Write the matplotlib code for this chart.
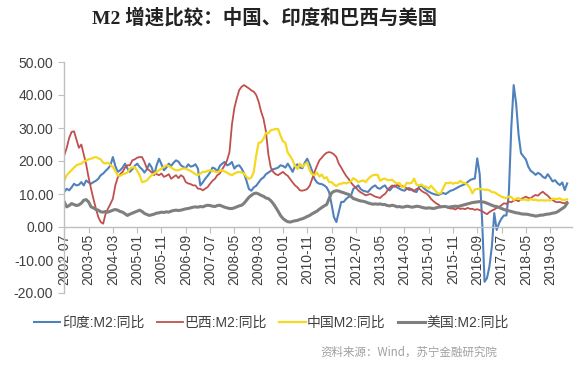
import matplotlib
matplotlib.use("Agg")
import matplotlib.pyplot as plt
import numpy as np
import pandas as pd

plt.rcParams['font.family'] = ['Liberation Sans', 'Noto Sans CJK SC', 'DejaVu Sans']

title = "M2 增速比较：中国、印度和巴西与美国"
source = "资料来源：Wind，苏宁金融研究院"
series_names = ["印度:M2:同比", "巴西:M2:同比", "中国M2:同比", "美国:M2:同比"]
start_month = "2002-07"

india = [10.6, 11.6, 11.1, 12, 13.1, 12.6, 12.8, 13.6, 12.6, 14.1, 13.5, 13.1, 13.6, 14, 14.6, 15.7, 16.2, 17, 17.7, 18.7,
         21.2, 18.5, 16.7, 17.2, 18, 19.2, 17.7, 16.7, 17.5, 18.5, 19.2, 18.2, 17.5, 16.5, 17.5, 19.2, 18, 15.7, 18.7, 20.7,
         19, 17.2, 18, 19.2, 18.5, 19.5, 20.2, 19.8, 18.7, 18.2, 17.8, 19, 18.3, 18.5, 19, 17.7, 12.6, 13.5, 14.6, 15.5,
         16.5, 18, 17.7, 16.8, 18.5, 19.2, 19.7, 18.7, 19, 19.7, 17.7, 18.5, 18.7, 17.7, 16.2, 14, 11.5, 11, 12, 12.5,
         13.5, 14.5, 15, 16, 16.5, 17, 17.5, 17.7, 18, 18.7, 18.5, 18, 19.2, 18, 16.7, 18.5, 19, 18, 17.8, 19.5,
         20.7, 19, 17, 14.6, 13.5, 13.1, 13, 12.6, 12, 10.6, 7, 3, 1.5, 4.5, 7.6, 7.6, 8.5, 9.1, 9.5, 11.6,
         12, 12.6, 11.5, 11, 10.8, 10.6, 11.5, 12.2, 12.6, 11.8, 11.6, 12.2, 12.6, 11.5, 11.1, 12, 12.6, 12, 11.6, 11.2,
         11, 11.5, 11.8, 11.2, 10.8, 10.6, 12.2, 12.6, 11.8, 11.1, 10.7, 10.3, 10, 9.8, 9.7, 10, 10.3, 10, 10.5, 11,
         11.2, 11.6, 12, 12.4, 12.7, 13, 13.6, 14.2, 14.5, 14.7, 20.8, 16, 2, -16.6, -15.5, -12, -6, 4.2, -0.9, 1.2,
         2.6, 3.5, 3.5, 10.2, 30, 43, 37.4, 28, 22.4, 21.4, 20.5, 18.3, 17, 16.5, 15.8, 16.4, 16, 15.2, 14.8, 16,
         15, 13.8, 14.2, 13.3, 12.7, 13.5, 11.2, 13.2]

brazil = [21.7, 24, 27, 28.8, 29, 26.5, 24, 25, 22, 19, 15, 11.6, 8.5, 5.6, 3, 1.5, 1, 4, 5.6, 7,
          8.6, 12.6, 15, 16, 16.7, 18, 18.7, 18.7, 20.2, 20.5, 21, 21.2, 21.2, 19.7, 17.7, 17.2, 16.5, 16.7, 16, 15.7,
          16.2, 15.2, 15.5, 16, 14.6, 15.2, 15.7, 14.8, 15.7, 15.2, 13.6, 13.2, 13, 12.6, 12.6, 11.6, 11.6, 11.1, 11.6, 12.1,
          13.1, 14, 14.6, 15.7, 16.2, 17.5, 18.7, 20.2, 22.7, 31, 36, 39, 41.5, 42.5, 43, 42.5, 42, 41.4, 41, 40,
          38, 35, 32.8, 29, 22, 18, 16.7, 16, 15.7, 16.2, 16.7, 16, 15.5, 14.5, 13.5, 12.6, 12, 11.1, 11, 11.2,
          11.5, 12.5, 14.5, 16.7, 18.5, 20.2, 21, 21.9, 22.5, 22.7, 22.5, 22, 21.2, 19.2, 18, 16.7, 15.5, 14.6, 13.5, 12.6,
          12, 11.1, 10.5, 10.1, 9.6, 9.8, 10, 9.6, 9.2, 9, 8.8, 9.5, 10, 11, 12, 12.6, 12.2, 12.8, 12.3, 12.5,
          12, 11.8, 11.2, 11.5, 11, 11.5, 11.7, 11, 10.5, 10.2, 9.5, 8.5, 7.8, 7.2, 6.8, 6.2, 6, 6.2, 5.8, 5.6,
          5.6, 5.3, 5.8, 5.5, 5.6, 5.4, 5.8, 5.5, 5.5, 5.2, 5.4, 5.1, 4.8, 4.3, 3.9, 4.5, 5, 5.3, 5.8, 6.1,
          6.6, 7.2, 7.0, 7.7, 7.5, 8, 8.2, 7.8, 8.5, 8.8, 9.2, 8.8, 8.7, 9.3, 9.7, 9.5, 10.2, 10.7, 10, 9.5,
          8.7, 8.2, 7.7, 7.5, 7.6, 7.3, 7.2, 7.6]

china = [14.1, 15.7, 16.5, 17.2, 18, 18.7, 19, 19.2, 19.8, 20.2, 20.5, 20.7, 21, 21.2, 20.8, 20.5, 19.5, 19.2, 19.5, 18.8,
         18.2, 17, 15.7, 15.5, 16, 16.2, 16.5, 17.7, 18, 18.2, 17, 15.7, 13.6, 13.8, 14.1, 15, 15.7, 16.2, 16.7, 17.2,
         17.7, 18.2, 18.7, 18.5, 18, 17.5, 17.2, 17.2, 17.5, 17.7, 17.7, 17.3, 17, 16.5, 16, 15.7, 16.2, 16.7, 16.7, 17,
         17.2, 17, 16.8, 16.6, 17, 17.2, 16.8, 16.5, 16, 15.7, 16.2, 16.5, 16.7, 16.5, 16.2, 15.2, 14.6, 15, 16.7, 21.7,
         25.5, 25.7, 26.7, 28.5, 28.4, 29.3, 29.5, 29.7, 29.7, 27.7, 26, 25.5, 22.5, 21.5, 20.2, 18.5, 17.6, 19.2, 18.2, 19,
         19.5, 17.2, 16, 15.7, 16.5, 15.3, 15.9, 14.7, 15.1, 13.6, 13.6, 12.9, 12.4, 13, 13.1, 13.4, 13.2, 13.5, 13.9, 14.8,
         14.3, 13.6, 13.9, 14.1, 13.6, 14.5, 15.2, 15.7, 15.8, 15.8, 14, 14.5, 14.7, 14.2, 14.2, 14.3, 13.6, 13.2, 13.3, 12.1,
         12.1, 13.4, 13.2, 13.4, 14.7, 12.8, 12.6, 12.9, 12.3, 12.2, 11.6, 12.5, 11.6, 10.8, 10.1, 10.2, 11.8, 13.3, 13.3, 13.5,
         13.1, 13.4, 13.3, 14, 13.4, 13.3, 12.8, 11.8, 10.2, 11.4, 11.5, 11.6, 11.4, 11.3, 11.3, 11.1, 10.6, 10.5, 10.1, 9.6,
         9.2, 8.9, 8.8, 9.2, 9.1, 8.2, 8.6, 8.8, 8.2, 8.3, 8.3, 8, 8.5, 8.2, 8.3, 8.0, 8.1, 8.1, 8.0, 8.1,
         8.0, 8.6, 8.5, 8.5, 8.7, 8.2, 8.2, 8.4]

usa = [7.6, 6.1, 6.5, 7.1, 6.8, 6.5, 6.7, 7.2, 8.1, 8.3, 7.6, 6.1, 5.8, 5.3, 5.1, 4.6, 4.5, 4.7, 4.5, 4.8,
       5.1, 5.3, 5.1, 4.7, 4.5, 4.0, 3.5, 3.9, 4.2, 4.5, 4.8, 5.1, 4.7, 4.1, 3.8, 3.5, 3.7, 3.9, 4.2, 4.3,
       4.5, 4.4, 4.6, 4.5, 4.8, 5.0, 5.1, 5.0, 5.1, 5.3, 5.5, 5.6, 5.8, 6.0, 6.1, 6.0, 6.2, 6.1, 6.4, 6.6,
       6.5, 6.3, 6.2, 6.5, 6.6, 6.3, 6.0, 5.8, 5.6, 5.6, 5.8, 6.1, 6.4, 6.6, 7.2, 8.1, 9.0, 9.6, 10.1, 10.3,
       10.0, 9.6, 9.3, 8.8, 8.6, 8.0, 7.1, 6.0, 4.8, 3.5, 2.6, 2.0, 1.6, 1.5, 1.7, 1.9, 2.0, 2.3, 2.5, 2.8,
       3.2, 3.5, 4.0, 4.4, 4.8, 5.4, 5.9, 6.4, 6.8, 8.6, 10.3, 10.8, 11.0, 10.9, 10.6, 10.4, 10.1, 9.9, 9.3, 8.6,
       8.4, 8.1, 7.9, 7.8, 7.6, 7.3, 7.1, 6.9, 7.0, 6.9, 7.0, 6.8, 6.8, 6.5, 6.4, 6.6, 6.4, 6.1, 6.2, 6.0,
       6.1, 6.3, 6.2, 6.0, 6.1, 6.3, 6.2, 6.0, 5.8, 5.7, 5.8, 5.7, 5.6, 5.8, 6.0, 6.1, 6.2, 6.2, 6.0, 6.1,
       6.2, 6.3, 6.2, 6.4, 6.6, 6.8, 7.0, 7.2, 7.4, 7.5, 7.6, 7.7, 7.6, 7.5, 7.2, 6.9, 6.6, 6.3, 6.2, 5.9,
       5.6, 5.3, 5.1, 4.9, 4.7, 4.5, 4.3, 4.2, 4.0, 3.9, 3.9, 3.8, 3.6, 3.5, 3.3, 3.4, 3.6, 3.6, 3.8, 3.9,
       4.0, 4.2, 4.3, 4.6, 5.1, 5.6, 6.1, 7.2]

colors = ["#4F81BD", "#C0504D", "#F5D820", "#7F7F7F"]
widths = [1.5, 1.3, 1.6, 2.2]

n = len(india)
months = pd.date_range(start_month, periods=n, freq="MS")
x = np.arange(n)
tick_idx = np.arange(0, n, 10)
tick_labels = [months[i].strftime("%Y-%m") for i in tick_idx]

fig = plt.figure(figsize=(5.77, 3.72), dpi=100)
ax = fig.add_axes([64.3 / 577, 1 - 293 / 372, (572 - 64.3) / 577, (293 - 62) / 372])

for s in ["top", "right"]:
    ax.spines[s].set_visible(False)
ax.spines["bottom"].set_position(("data", 0))
for s in ["left", "bottom"]:
    ax.spines[s].set_color("#BFBFBF")
    ax.spines[s].set_linewidth(1.0)

for data, c, w, name in zip([india, brazil, china, usa], colors, widths, series_names):
    ax.plot(x, data, color=c, lw=w, label=name, solid_joinstyle="round")

ax.set_xlim(0, 209)
ax.set_ylim(-20, 50)
ax.set_yticks(np.arange(-20, 51, 10))
ax.set_yticklabels([f"{v:.2f}" for v in np.arange(-20, 51, 10)])
ax.set_xticks(tick_idx)
ax.set_xticklabels(tick_labels)
ax.tick_params(axis="y", direction="out", length=4, color="#BFBFBF", labelsize=10,
               labelcolor="#404040", pad=4)
ax.tick_params(axis="x", direction="out", length=4, color="#BFBFBF", labelsize=10,
               labelcolor="#404040", pad=1, labelrotation=90)
ax.set_facecolor("none")

fig.text(0.459, 0.952, title, ha="center", va="center", fontsize=14, fontweight="bold",
         family=["Liberation Serif", "Noto Sans CJK SC"], color="#222222")

leg = fig.legend(loc="center", bbox_to_anchor=(0.47, 0.132), ncol=4, frameon=False,
                 fontsize=10, handlelength=1.9, handletextpad=0.1, columnspacing=0.9,
                 labelcolor="#404040")

fig.text(0.862, 0.054, source, ha="right", va="center", fontsize=8.3, style="italic",
         color="#A0A0A0", family=["Noto Sans CJK SC", "DejaVu Sans"])

fig.savefig("out.png", dpi=100)
